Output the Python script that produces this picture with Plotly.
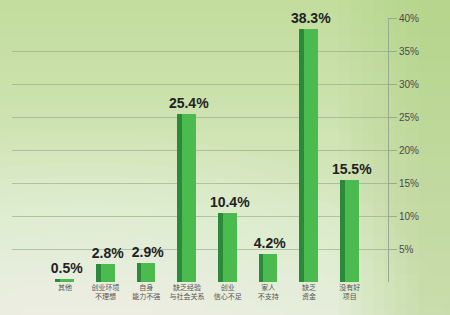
import plotly.graph_objects as go

categories = ["其他", "创业环境<br>不理想", "自身<br>能力不强", "缺乏经验<br>与社会关系",
              "创业<br>信心不足", "家人<br>不支持", "缺乏<br>资金", "没有好<br>项目"]
values = [0.5, 2.8, 2.9, 25.4, 10.4, 4.2, 38.3, 15.5]
value_labels = ["0.5%", "2.8%", "2.9%", "25.4%", "10.4%", "4.2%", "38.3%", "15.5%"]
ytick_vals = [5, 10, 15, 20, 25, 30, 35, 40]
ytick_text = ["5%", "10%", "15%", "20%", "25%", "30%", "35%", "40%"]

xs = list(range(len(categories)))

fig = go.Figure()

# dark side strip (3D look)
fig.add_trace(go.Bar(x=xs, y=values, width=0.12, offset=-0.24,
                     marker=dict(color="#2a8a3a", line=dict(width=0)),
                     hoverinfo="skip", showlegend=False))
# main face
fig.add_trace(go.Bar(x=xs, y=values, width=0.34, offset=-0.12,
                     marker=dict(color="#4cbb4f", line=dict(width=0)),
                     text=["<b>%s</b>" % s for s in value_labels],
                     textposition="outside", cliponaxis=False, constraintext="none",
                     textfont=dict(family="Liberation Sans, Arial", size=14, color="#222222"),
                     showlegend=False))

# background gradient shapes
shapes = []
n = 30
top = (194, 221, 156)
bot = (228, 238, 216)
for i in range(n):
    t = i / (n - 1)
    c = tuple(int(top[k] + (bot[k] - top[k]) * t) for k in range(3))
    shapes.append(dict(type="rect", xref="paper", yref="paper", layer="below",
                       x0=-0.1, x1=1.3, y0=1.1 - (i + 1) * 1.35 / n, y1=1.1 - i * 1.35 / n + 0.01,
                       fillcolor="rgb(%d,%d,%d)" % c, line=dict(width=0)))
# soft glow lower-left
for i in range(12):
    r = 0.95 - i * 0.07
    shapes.append(dict(type="circle", xref="paper", yref="paper", layer="below",
                       x0=0.2 - r, x1=0.2 + r, y0=-0.15 - r * 0.75, y1=-0.15 + r * 0.75,
                       fillcolor="rgba(255,255,255,0.05)", line=dict(width=0)))
# right greener edge
for i in range(8):
    w = 0.3 - i * 0.03
    shapes.append(dict(type="rect", xref="paper", yref="paper", layer="below",
                       x0=1.17 - w, x1=1.3, y0=-0.2, y1=1.1,
                       fillcolor="rgba(175,212,125,0.06)", line=dict(width=0)))

fig.update_layout(
    width=450, height=315,
    margin=dict(l=12, r=62, t=15, b=33),
    paper_bgcolor="#d4e6b8",
    plot_bgcolor="rgba(0,0,0,0)",
    barmode="overlay",
    bargap=0,
    shapes=shapes,
    xaxis=dict(range=[-1.3, 7.94], tickmode="array", tickvals=xs, ticktext=categories,
               tickfont=dict(family="Noto Sans CJK SC", size=7, color="#555555"),
               showgrid=False, zeroline=False, showline=False, ticks="", fixedrange=True),
    yaxis=dict(range=[0, 40], side="right", tickvals=ytick_vals, ticktext=ytick_text,
               tickfont=dict(family="Liberation Sans, Arial", size=10, color="#4a4a4a"),
               showgrid=True, gridcolor="rgba(140,160,125,0.55)", gridwidth=1,
               zeroline=False, showline=True, linecolor="#9aa894", linewidth=1,
               ticks="outside", ticklen=8, tickcolor="rgba(140,160,125,0.8)",
               fixedrange=True),
    font=dict(family="Noto Sans CJK SC"),
)

fig.write_html("out.html")
